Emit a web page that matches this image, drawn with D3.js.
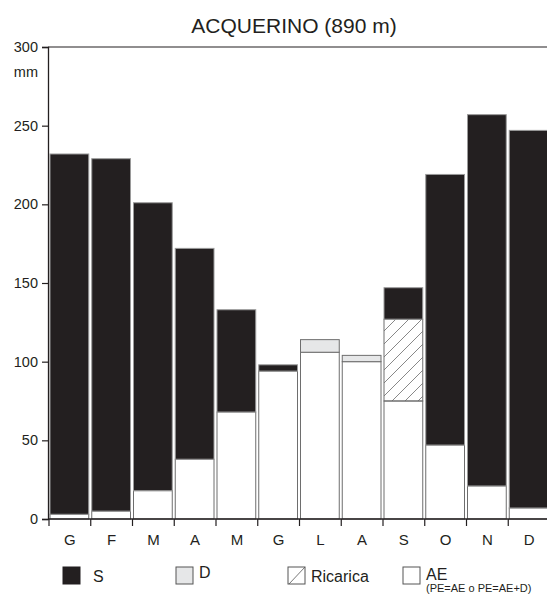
<!DOCTYPE html>
<html>
<head>
<meta charset="utf-8">
<script src="https://cdn.jsdelivr.net/npm/d3@7"></script>
<style>
  html, body { margin: 0; padding: 0; background: #fff; }
  svg { display: block; font-family: "Liberation Sans", Arial, Helvetica, sans-serif; }
</style>
</head>
<body>
<svg id="chart" width="547" height="597"></svg>
<script>
// Monthly water balance, Acquerino station (890 m)
const months = ["G", "F", "M", "A", "M", "G", "L", "A", "S", "O", "N", "D"];
const aeValues = [3, 5, 18, 38, 68, 94, 106, 100, 75, 47, 21, 7];          // AE
const ricaricaValues = [0, 0, 0, 0, 0, 0, 0, 0, 52, 0, 0, 0];             // Ricarica
const deficitValues = [0, 0, 0, 0, 0, 0, 8, 4, 0, 0, 0, 0];               // D
const surplusValues = [229, 224, 183, 134, 65, 4, 0, 0, 20, 172, 236, 240]; // S
const yTicks = [0, 50, 100, 150, 200, 250, 300];

const ink = "#231f20";
const barStroke = "#8c8c8c";

const svg = d3.select("#chart");
const margin = { left: 48, top: 47, bottom: 519, right: 550 };

const x = d3.scaleBand()
  .domain(d3.range(months.length))
  .range([margin.left + 1, margin.right]);

const y = d3.scaleLinear()
  .domain([0, 300])
  .range([margin.bottom, margin.top]);

// hatch pattern for recharge
const defs = svg.append("defs");
const pat = defs.append("pattern")
  .attr("id", "hatch")
  .attr("patternUnits", "userSpaceOnUse")
  .attr("width", 13).attr("height", 13);
pat.append("path")
  .attr("d", "M-1,14 L14,-1 M-7,7 L7,-7 M6,20 L20,6")
  .attr("stroke", "#555").attr("stroke-width", 0.7).attr("fill", "none");

// stacked segments: AE, Ricarica, D, S
const layers = [
  { key: "AE", values: aeValues, fill: "#ffffff" },
  { key: "R", values: ricaricaValues, fill: "url(#hatch)" },
  { key: "D", values: deficitValues, fill: "#e6e7e8" },
  { key: "S", values: surplusValues, fill: ink }
];

const rows = months.map((m, i) => {
  const r = { i };
  layers.forEach(l => r[l.key] = l.values[i]);
  return r;
});
const stack = d3.stack().keys(layers.map(l => l.key));
const series = stack(rows);

const barG = svg.append("g");
series.forEach((s, li) => {
  barG.append("g")
    .selectAll("rect")
    .data(s.filter(d => d[1] - d[0] > 0))
    .join("rect")
    .attr("x", d => x(d.data.i) + 1)
    .attr("width", x.bandwidth() - 3)
    .attr("y", d => y(d[1]))
    .attr("height", d => y(d[0]) - y(d[1]))
    .attr("fill", layers[li].fill)
    .attr("stroke", layers[li].key === "S" ? "#9a9a9a" : "#6e6e6e")
    .attr("stroke-width", 1);
});

// frame: top line and left axis
svg.append("line")
  .attr("x1", margin.left).attr("x2", 547)
  .attr("y1", y(300)).attr("y2", y(300))
  .attr("stroke", ink).attr("stroke-width", 1.2);

const yAxis = d3.axisLeft(y).tickValues(yTicks).tickSize(6).tickPadding(4);
const yg = svg.append("g")
  .attr("transform", `translate(${margin.left},0)`)
  .call(yAxis);
yg.select(".domain").attr("stroke", ink).attr("stroke-width", 1.3);
yg.selectAll(".tick line").attr("stroke", ink).attr("stroke-width", 1.2);
yg.selectAll(".tick text")
  .attr("fill", ink).attr("font-size", 14.5)
  .attr("font-family", "Liberation Sans, Arial, sans-serif");

svg.append("text")
  .attr("x", 38).attr("y", 77)
  .attr("text-anchor", "end")
  .attr("font-size", 14.5).attr("fill", ink)
  .text("mm");

// x axis with ticks at band boundaries
const xg = svg.append("g");
xg.append("line")
  .attr("x1", margin.left).attr("x2", 547)
  .attr("y1", y(0)).attr("y2", y(0))
  .attr("stroke", ink).attr("stroke-width", 1.3);
xg.selectAll("line.tk")
  .data(d3.range(months.length))
  .join("line")
  .attr("class", "tk")
  .attr("x1", d => x(d)).attr("x2", d => x(d))
  .attr("y1", y(0)).attr("y2", y(0) + 7)
  .attr("stroke", ink).attr("stroke-width", 1.2);
xg.selectAll("text")
  .data(months)
  .join("text")
  .attr("x", (d, i) => x(i) + x.bandwidth() / 2)
  .attr("y", 545)
  .attr("text-anchor", "middle")
  .attr("font-size", 15).attr("fill", ink)
  .text(d => d);

// title
svg.append("text")
  .attr("x", 294).attr("y", 33)
  .attr("text-anchor", "middle")
  .attr("font-size", 21).attr("fill", ink)
  .text("ACQUERINO (890 m)");

// legend
const legend = [
  { label: "S", x: 63, fill: ink, dy: 0 },
  { label: "D", x: 176, fill: "#e6e7e8", dy: -4 },
  { label: "Ricarica", x: 288, fill: "#ffffff", dy: 0, diag: true },
  { label: "AE", x: 403, fill: "#ffffff", dy: -2 }
];
const lg = svg.append("g");
legend.forEach(l => {
  lg.append("rect")
    .attr("x", l.x).attr("y", 567)
    .attr("width", 17).attr("height", 17)
    .attr("fill", l.fill)
    .attr("stroke", l.fill === ink ? ink : "#555")
    .attr("stroke-width", 1);
  if (l.diag) {
    lg.append("line")
      .attr("x1", l.x + 1).attr("y1", 584)
      .attr("x2", l.x + 17).attr("y2", 567)
      .attr("stroke", "#555").attr("stroke-width", 0.8);
  }
  lg.append("text")
    .attr("x", l.x + (l.label === "S" ? 30 : 23)).attr("y", 582 + l.dy)
    .attr("font-size", 16).attr("fill", ink)
    .text(l.label);
});
lg.append("text")
  .attr("x", 426).attr("y", 592)
  .attr("font-size", 11).attr("fill", ink)
  .text("(PE=AE o PE=AE+D)");
</script>
</body>
</html>
